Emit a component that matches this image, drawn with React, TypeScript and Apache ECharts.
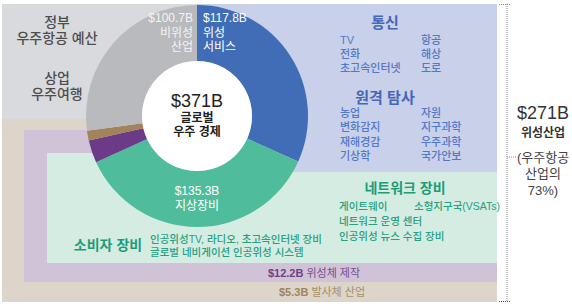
import React, { useEffect, useRef } from "react";
import * as echarts from "echarts";

const categories = ["위성 서비스", "지상장비", "위성체 제작", "발사체 산업", "비위성 산업"];
const values = [117.8, 135.3, 12.2, 5.3, 100.7];
const colors = ["#406db6", "#4fbd9b", "#6b3b88", "#a2845c", "#b9babd"];
const totalLabel = "$371B";
const satelliteTotal = "$271B";

const commItems = [["TV", "항공"], ["전화", "해상"], ["초고속인터넷", "도로"]];
const remoteItems = [["농업", "자원"], ["변화감지", "지구과학"], ["재해경감", "우주과학"], ["기상학", "국가안보"]];
const networkItems = ["게이트웨이", "네트워크 운영 센터", "인공위성 뉴스 수집 장비"];
const consumerItems = ["인공위성TV, 라디오, 초고속인터넷 장비", "글로벌 네비게이션 인공위성 시스템"];

const FONT = '"Liberation Sans", "Noto Sans CJK KR", sans-serif';
const CX = 197;
const CY = 116;

function txt(x: number, y: number, text: string, size: number, fill: string, opts: any = {}) {
  return {
    type: "text",
    x,
    y,
    z: 100,
    silent: true,
    style: {
      text,
      fontSize: size,
      fontFamily: FONT,
      fill,
      fontWeight: opts.weight || "normal",
      textAlign: opts.align || "left",
      textVerticalAlign: "middle",
    },
  };
}

function lines(x: number, y0: number, step: number, arr: string[], size: number, fill: string, opts: any = {}) {
  return arr.map((t, i) => txt(x, y0 + i * step, t, size, fill, opts));
}

export default function App() {
  const ref = useRef<HTMLDivElement>(null);
  useEffect(() => {
    document.body.style.margin = "0";
    const chart = echarts.init(ref.current!, null, { renderer: "svg" });
    const blueHead = "#4666b8";
    const blueItem = "#5278c6";
    const teal = "#1d9c78";
    const tealItem = "#26a07f";
    const graphic: any[] = [
      { type: "rect", z: 0, silent: true, shape: { x: 2, y: 4, width: 200, height: 115 }, style: { fill: "#d9dadd" } },
      { type: "rect", z: 1, silent: true, shape: { x: 2, y: 119, width: 495, height: 183 }, style: { fill: "#ddd5c9" } },
      { type: "rect", z: 2, silent: true, shape: { x: 24, y: 130, width: 473, height: 152 }, style: { fill: "#d0c3d7" } },
      { type: "rect", z: 3, silent: true, shape: { x: 47, y: 153, width: 450, height: 110 }, style: { fill: "#d5ece3" } },
      { type: "rect", z: 4, silent: true, shape: { x: 197, y: 4, width: 300, height: 168 }, style: { fill: "#c8d0ea" } },
      { type: "circle", z: 90, silent: true, shape: { cx: CX, cy: CY, r: 55 }, style: { fill: "#ffffff" } },
      // bracket
      { type: "line", z: 50, silent: true, shape: { x1: 507, y1: 4, x2: 507, y2: 302 }, style: { stroke: "#8a8a8a", lineWidth: 1, lineDash: [1, 1] } },
      { type: "line", z: 50, silent: true, shape: { x1: 499, y1: 4.5, x2: 511, y2: 4.5 }, style: { stroke: "#8a8a8a", lineWidth: 1, lineDash: [1, 1] } },
      { type: "line", z: 50, silent: true, shape: { x1: 499, y1: 301.5, x2: 511, y2: 301.5 }, style: { stroke: "#555", lineWidth: 1, lineDash: [1, 1] } },
      { type: "line", z: 50, silent: true, shape: { x1: 507, y1: 157, x2: 516, y2: 157 }, style: { stroke: "#8a8a8a", lineWidth: 1, lineDash: [1, 1] } },
      ...lines(57, 22, 16, ["정부", "우주항공 예산"], 14, "#4d4d4f", { align: "center", weight: 500 }),
      ...lines(57, 78, 16, ["상업", "우주여행"], 14, "#4d4d4f", { align: "center", weight: 500 }),
      ...lines(193, 18, 14.5, [`$${values[4]}B`, "비위성", "산업"], 12, "#f4f4f4", { align: "right" }),
      ...lines(203, 18, 14.5, [`$${values[0]}B`, "위성", "서비스"], 12, "#ffffff", { align: "left" }),
      txt(CX, 101, totalLabel, 18, "#222", { align: "center", weight: 500 }),
      ...lines(CX, 118, 14, ["글로벌", "우주 경제"], 12, "#222", { align: "center", weight: "bold" }),
      ...lines(CX, 191, 15, [`$${values[1]}B`, categories[1]], 12, "#ffffff", { align: "center" }),
      txt(385, 22, "통신", 15, blueHead, { align: "center", weight: "bold" }),
      txt(385, 97, "원격 탐사", 15, blueHead, { align: "center", weight: "bold" }),
      txt(405, 188, "네트워크 장비", 14, teal, { align: "center", weight: "bold" }),
      txt(339, 206, networkItems[0], 10.5, tealItem, { weight: 500 }),
      txt(414, 206, "소형지구국(VSATs)", 10.5, tealItem, { weight: 500 }),
      txt(339, 221, networkItems[1], 10.5, tealItem, { weight: 500 }),
      txt(339, 236, networkItems[2], 10.5, tealItem, { weight: 500 }),
      txt(108, 245, "소비자 장비", 14, teal, { align: "center", weight: "bold" }),
      txt(150, 239, consumerItems[0], 10.5, tealItem, { weight: 500 }),
      txt(150, 252, consumerItems[1], 10.5, tealItem, { weight: 500 }),
      {
        type: "text", x: 314, y: 273, z: 100, silent: true,
        style: {
          text: `{b|$${values[2]}B} ${categories[2]}`, textAlign: "center", textVerticalAlign: "middle",
          fontFamily: FONT, fontSize: 11, fill: "#7a4c8e",
          rich: { b: { fontFamily: FONT, fontSize: 11, fontWeight: "bold", fill: "#6f3f86" } },
        },
      },
      {
        type: "text", x: 322, y: 292, z: 100, silent: true,
        style: {
          text: `{b|$${values[3]}B} ${categories[3]}`, textAlign: "center", textVerticalAlign: "middle",
          fontFamily: FONT, fontSize: 11, fill: "#a68e66",
          rich: { b: { fontFamily: FONT, fontSize: 11, fontWeight: "bold", fill: "#a0855a" } },
        },
      },
      txt(543, 113, satelliteTotal, 18, "#333", { align: "center", weight: 500 }),
      txt(543, 133, "위성산업", 12, "#333", { align: "center", weight: "bold" }),
      ...lines(543, 157, 16.5, ["(우주항공", "산업의", "73%)"], 13, "#444", { align: "center" }),
    ];
    commItems.forEach((row, i) => {
      graphic.push(txt(340, 40 + i * 14, row[0], 11, blueItem, { weight: 500 }));
      graphic.push(txt(421, 40 + i * 14, row[1], 11, blueItem, { weight: 500 }));
    });
    remoteItems.forEach((row, i) => {
      graphic.push(txt(340, 113 + i * 14.3, row[0], 11, blueItem, { weight: 500 }));
      graphic.push(txt(421, 113 + i * 14.3, row[1], 11, blueItem, { weight: 500 }));
    });
    chart.setOption({
      animation: false,
      graphic,
      series: [
        {
          type: "pie",
          z: 20,
          center: [CX, CY],
          radius: [55, 111],
          startAngle: 90,
          clockwise: true,
          silent: true,
          label: { show: false },
          labelLine: { show: false },
          itemStyle: { borderWidth: 0 },
          data: categories.map((c, i) => ({ name: c, value: values[i], itemStyle: { color: colors[i] } })),
        },
      ],
    });
    return () => chart.dispose();
  }, []);
  return <div ref={ref} style={{ width: 572, height: 308 }} />;
}
